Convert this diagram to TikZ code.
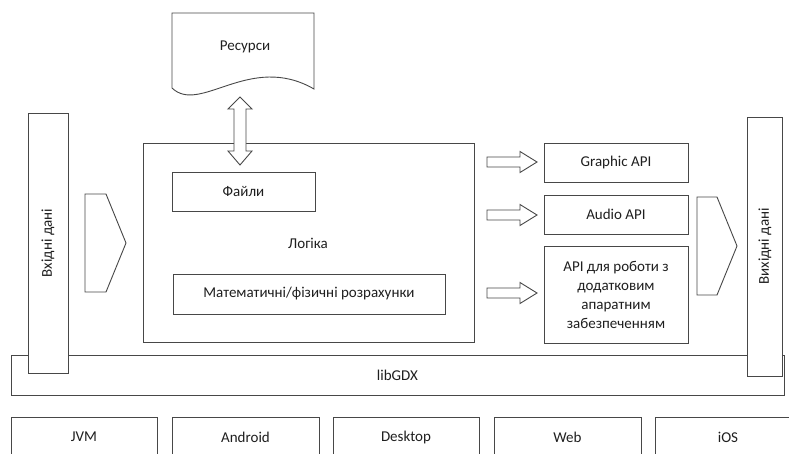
\documentclass[tikz,border=0pt]{standalone}
\usepackage{fontspec}
\setmainfont{Carlito}
\begin{document}
\begin{tikzpicture}[x=1pt,y=-1pt,
  lc/.style={line width=0.9pt, draw=black!72},
  box/.style={lc, fill=white, rectangle, inner sep=0pt},
  lbl/.style={font=\fontsize{15}{19}\selectfont, text=black!88},
  blockarrow/.style={lc, fill=white, line join=miter}]
\useasboundingbox (0,0) rectangle (789,453);
\clip (0,0) rectangle (789,453);
\fill[white] (0,0) rectangle (789,453);

% libGDX base
\node[box, minimum width=773, minimum height=40] (gdx) at (397.5,375) {};
\node[lbl] at (gdx.center) {libGDX};

% platforms
\foreach \nm/\xa/\xb/\t in {jvm/11/157/JVM, android/172/319/Android, desktop/333/479/Desktop, web/494/641/Web, ios/655/801/iOS}{
  \draw[lc, fill=white] (\xa,417) rectangle (\xb,470);
  \node[lbl] (\nm) at ({(\xa+\xb)/2},437) {\t};
}

% input / output columns
\node[box, minimum width=40, minimum height=260] (in) at (48,243) {};
\node[lbl, rotate=90] at (in.center) {Вхідні дані};
\node[box, minimum width=35, minimum height=259] (out) at (765,246.5) {};
\node[lbl, rotate=90] at (out.center) {Вихідні дані};

% logic box
\node[box, minimum width=331, minimum height=199] (logic) at (308.5,242.5) {};
\node[lbl] at (308,243) {Логіка};
\node[box, minimum width=143, minimum height=39] (files) at (243.5,191.5) {};
\node[lbl] at (files.center) {Файли};
\node[box, minimum width=272, minimum height=40] (math) at (309,294) {};
\node[lbl] at (math.center) {Математичні/фізичні розрахунки};

% resources document
\draw[lc, fill=white] (172,13) -- (314,13) -- (314,89)
  .. controls (250,52) and (200,115) .. (172,88) -- cycle;
\node[lbl] (res) at (245,47) {Ресурси};

% double arrow resources <-> files
\draw[blockarrow] (240,97) -- (252,109) -- (246,109) -- (246,151) -- (252,151)
  -- (240,165) -- (228,151) -- (234,151) -- (234,109) -- (228,109) -- cycle;

% input chevron
\draw[blockarrow] (85,194) -- (106,194) -- (126,243) -- (106,292) -- (85,292) -- cycle;

% API boxes
\node[box, minimum width=144, minimum height=39] (gapi) at (616,162.5) {};
\node[lbl] at (gapi.center) {Graphic API};
\node[box, minimum width=144, minimum height=39] (aapi) at (616,214.5) {};
\node[lbl] at (aapi.center) {Audio API};
\node[box, minimum width=144, minimum height=97] (hapi) at (616,294.5) {};
\node[lbl, align=center] at (hapi.center) {API для роботи з\\додатковим\\апаратним\\забезпеченням};

% small arrows
\foreach \y in {162,215,293}{
  \draw[blockarrow] (487,\y-5) -- (520,\y-5) -- (520,\y-10.5) -- (537,\y) -- (520,\y+10.5)
    -- (520,\y+5) -- (487,\y+5) -- cycle;
}

% output chevron
\draw[blockarrow] (697,197) -- (717,197) -- (737,246) -- (717,295) -- (697,295) -- cycle;
\end{tikzpicture}
\end{document}
